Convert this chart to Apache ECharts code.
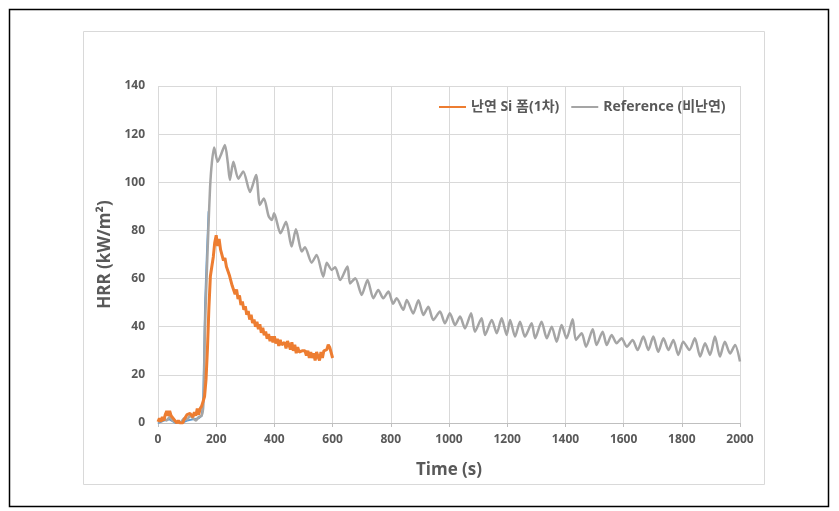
<!DOCTYPE html>
<html><head><meta charset="utf-8">
<script src="https://cdn.jsdelivr.net/npm/echarts@6/dist/echarts.min.js"></script>
<style>html,body{margin:0;padding:0;background:#fff}#c{width:839px;height:511px}</style>
</head><body><div id="c"></div>
<script>
// ---- data ----
const xTicks = [0,200,400,600,800,1000,1200,1400,1600,1800,2000];
const yTicks = [0,20,40,60,80,100,120,140];
const seriesNames = ['난연 Si 폼(1차)', 'Reference (비난연)'];

// orange: sampled every 5 s from 0 to 600
const orangeStep = 5;
const orangeValues = [
0.5,2,0.5,2.5,1,3.5,5,3,5,3,
3.5,1.5,1.5,0,1,0,0.5,0,1.5,1.5,
3.5,3,4,4.5,2.5,4.5,3,6,3.5,6,
7,9,11,18,31,48,61,65,69,75,
78,73.5,76.5,72,72,67.5,68.5,65,64.5,61.5,
61,57,57.5,53.5,55.5,51.5,53,49,50.5,47,
48.5,45,46.5,43,45,41.5,43,40,42,39,
41,37.5,39.5,36.5,38,35,37,34,36,33.5,
36,33,35,32,34.5,32.5,32.5,33.5,31,34,
32.5,30.5,33.5,30,32.5,29,31.5,29.5,29.5,30,
29.5,30,28,30,27,29.5,27,29,26,29.5,
27.5,26,29.5,27,30,30.5,30.5,32.5,31.5,32,
27
];
// grey: [time, HRR] read at peaks and troughs
const greyPoints = [
[0,0.5],[10,1],[20,2],[30,1],[40,2.5],[50,1],[60,0.5],[70,0],[80,0.5],[90,2],
[100,1.5],[110,3],[120,2],[130,1],[140,2.5],[150,3],[155,6],[158,15],[161,38],[167,60],
[173,80],[179,98],[185,108],[193,114.5],[205,108.5],[218,112],[230,115.5],[240,108],[247,101],[259,108.5],
[276,101.5],[293,104.5],[316,96],[337,103],[350,90.6],[364,93.3],[380,86],[391,84.3],[399,87.1],[421,78.8],
[440,83.6],[459,73.3],[474,80.5],[494,71.2],[505,73],[528,66.6],[545,69.8],[568,60.8],[580,66.6],[597,63.6],
[609,64.7],[626,59.4],[651,65],[660,58],[678,60.1],[700,53.2],[720,59.4],[740,51.8],[757,55.3],[774,51.8],
[792,54.6],[808,49.5],[820,51.8],[843,47],[855,51.1],[877,45.5],[895,51],[912,44.9],[929,48.3],[946,42.8],
[969,46.3],[986,41.4],[1003,45.6],[1021,40.7],[1038,44.2],[1055,39.3],[1076,45.6],[1089,37.9],[1112,43.5],[1124,36.6],
[1147,42.8],[1164,37.3],[1181,43.5],[1198,36.6],[1210,42.8],[1227,35.9],[1244,42.1],[1261,35.9],[1284,41.4],[1296,35.2],
[1318,42.1],[1336,35.2],[1353,40.0],[1370,33.8],[1387,40.7],[1404,35.2],[1425,43.1],[1436,34.5],[1456,37.3],[1471,31.7],
[1494,38.9],[1507,32.4],[1528,37.9],[1542,32.4],[1559,36.6],[1576,33.1],[1593,35.2],[1611,31.7],[1631,34.5],[1648,30.3],
[1668,35.9],[1685,30.3],[1702,35.9],[1719,29.6],[1737,35.2],[1754,30.3],[1771,34.5],[1788,28.3],[1805,33.8],[1826,30.3],
[1845,35.2],[1863,27.6],[1880,33.1],[1897,28.3],[1914,35.9],[1931,27.6],[1948,33.8],[1966,28.9],[1983,32.4],[2000,25.5]
];
// faint blue trace, mostly hidden under the grey line
const bluePoints = [
[0,0],[20,1],[40,1.5],[60,0],[80,0],[100,1],[120,1.5],[140,2],[150,3],[155,8],[158,25],[162,50],[168,70],[174,88]
];

// ---- chart ----
const font = "'Open Sans','Noto Sans CJK KR',sans-serif";
const txt = '#595959';
const orangeData = orangeValues.map((v,i)=>[i*orangeStep, v]);
const chart = echarts.init(document.getElementById('c'), null, {renderer:'canvas'});
chart.setOption({
  animation:false,
  backgroundColor:'#fff',
  graphic:[
    {type:'rect', shape:{x:9.5,y:9.5,width:819,height:497}, style:{fill:'none',stroke:'#000',lineWidth:1.5}, z:-10},
    {type:'rect', shape:{x:83.5,y:31.5,width:681,height:453}, style:{fill:'#fff',stroke:'#d9d9d9',lineWidth:1}, z:-9}
  ],
  grid:{left:158, top:86, width:582, height:337, containLabel:false},
  legend:{
    data:seriesNames, left:434, top:95, icon:'rect', itemWidth:27, itemHeight:2, itemGap:12,
    textStyle:{color:txt, fontFamily:font, fontSize:14, fontWeight:'bold'}
  },
  xAxis:{
    type:'value', min:0, max:2000, interval:200,
    name:'Time (s)', nameLocation:'middle', nameGap:39,
    nameTextStyle:{color:txt, fontFamily:font, fontSize:17, fontWeight:'bold'},
    axisLine:{show:true, lineStyle:{color:'#bfbfbf'}},
    axisTick:{show:true, length:4, lineStyle:{color:'#bfbfbf'}},
    axisLabel:{color:txt, fontFamily:font, fontSize:12, fontWeight:'bold', margin:11,
      formatter:v=>xTicks.includes(v)?String(v):''},
    splitLine:{show:true, lineStyle:{color:'#d9d9d9'}}
  },
  yAxis:{
    type:'value', min:0, max:140, interval:20,
    name:'HRR (kW/m²)', nameLocation:'middle', nameGap:44, nameRotate:90,
    nameTextStyle:{color:txt, fontFamily:font, fontSize:17, fontWeight:'bold'},
    axisLine:{show:false}, axisTick:{show:false},
    axisLabel:{color:txt, fontFamily:font, fontSize:12, fontWeight:'bold', margin:13,
      formatter:v=>yTicks.includes(v)?String(v):''},
    splitLine:{show:true, lineStyle:{color:'#d9d9d9'}}
  },
  series:[
    {name:'blue', type:'line', data:bluePoints, showSymbol:false, lineStyle:{color:'#5B9BD5', width:2}, z:1},
    {name:seriesNames[1], type:'line', data:greyPoints, showSymbol:false, smooth:0.25, color:'#A5A5A5', lineStyle:{color:'#A5A5A5', width:2.5}, z:2},
    {name:seriesNames[0], type:'line', data:orangeData, showSymbol:false, color:'#ED7D31', lineStyle:{color:'#ED7D31', width:3}, z:3}
  ]
});
</script></body></html>
